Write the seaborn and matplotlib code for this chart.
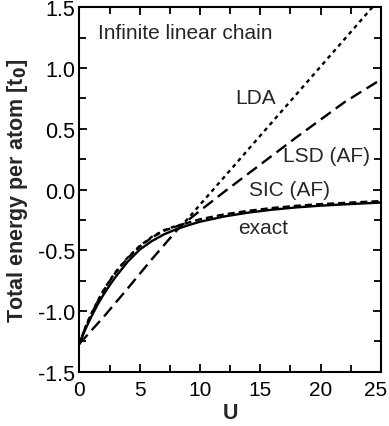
import matplotlib
matplotlib.use("Agg")
import matplotlib.pyplot as plt
import matplotlib.transforms as mtransforms
import seaborn as sns
from matplotlib.ticker import MultipleLocator

# ---- data ----
U_exact = [0, 0.5, 1, 1.5, 2, 2.5, 3, 4, 5, 6, 7, 8, 9, 10, 12, 14, 16, 18, 20, 22, 25]
E_exact = [-1.27, -1.15, -1.045, -0.95, -0.865, -0.79, -0.72, -0.595, -0.495, -0.425,
           -0.37, -0.328, -0.295, -0.265, -0.222, -0.19, -0.166, -0.147, -0.133, -0.122, -0.107]

U_sic = [0, 0.5, 1, 1.5, 2, 2.5, 3, 4, 5, 6, 7, 8, 8.6, 10, 12, 14, 16, 18, 20, 22, 25]
E_sic = [-1.27, -1.135, -1.025, -0.925, -0.835, -0.755, -0.685, -0.565, -0.47, -0.395,
         -0.34, -0.305, -0.285, -0.245, -0.205, -0.175, -0.152, -0.134, -0.12, -0.11, -0.095]

U_lda = [0, 0.5, 1, 1.5, 2, 2.5, 3, 4, 5, 6, 7, 8, 8.6, 25]
E_lda = [-1.27, -1.13, -1.02, -0.92, -0.83, -0.75, -0.68, -0.56, -0.465, -0.39,
         -0.335, -0.3, -0.285, 1.58]

U_lsd = [0, 2, 4, 6, 7, 8, 8.6, 10, 12, 14, 16, 18, 20, 22, 25]
E_lsd = [-1.27, -1.05, -0.815, -0.575, -0.46, -0.345, -0.285, -0.175, -0.02, 0.13,
         0.28, 0.43, 0.575, 0.72, 0.905]

x_ticks = [0, 5, 10, 15, 20, 25]
y_ticks = [-1.5, -1.0, -0.5, 0.0, 0.5, 1.0, 1.5]

sns.set_style("ticks")
plt.rcParams['font.family'] = ['Liberation Sans', 'DejaVu Sans']

fig = plt.figure(figsize=(3.89, 4.27), dpi=100)
ax = fig.add_axes([0.204, 0.127, 0.775, 0.8536])

lw = 1.7
sns.lineplot(x=U_exact, y=E_exact, ax=ax, color='black', linewidth=lw, linestyle='-')
sns.lineplot(x=U_sic, y=E_sic, ax=ax, color='black', linewidth=lw, linestyle=(0, (3.0, 1.7)))
sns.lineplot(x=U_lda, y=E_lda, ax=ax, color='black', linewidth=lw, linestyle=(0, (1.7, 1.7)))
sns.lineplot(x=U_lsd, y=E_lsd, ax=ax, color='black', linewidth=lw, linestyle=(0, (5.2, 2.6)))

ax.set_xlim(0, 25)
ax.set_ylim(-1.5, 1.5)
ax.set_xticks(x_ticks)
ax.set_yticks(y_ticks)
ax.set_xticklabels([str(v) for v in x_ticks])
ax.set_yticklabels([f"{v:.1f}" for v in y_ticks])
ax.xaxis.set_minor_locator(MultipleLocator(2.5))
ax.yaxis.set_minor_locator(MultipleLocator(0.25))
ax.tick_params(which='both', direction='in', top=True, right=True, width=1.3, colors='black')
ax.tick_params(which='major', length=6)
ax.tick_params(which='minor', length=5)
ax.tick_params(axis='x', labelsize=15, pad=6)
ax.tick_params(axis='y', labelsize=15.5, pad=3)
for s in ax.spines.values():
    s.set_linewidth(1.5)
    s.set_color('black')

# nudge the last x tick label so it stays inside the figure
last = ax.get_xticklabels()[-1]
last.set_transform(last.get_transform() + mtransforms.ScaledTranslation(-5 / 100, 0, fig.dpi_scale_trans))

ax.set_xlabel("U", fontsize=15.5, fontweight='bold', labelpad=2)
ax.set_ylabel("Total energy per atom [t$_\\mathbf{0}$]", fontsize=15.5, fontweight='bold', labelpad=6)

fs = 15
ax.text(1.55, 1.29, "Infinite linear chain", fontsize=fs, va='center', ha='left')
ax.text(12.9, 0.754, "LDA", fontsize=fs, va='center', ha='left')
ax.text(16.9, 0.283, "LSD (AF)", fontsize=fs, va='center', ha='left')
ax.text(14.1, 0.0, "SIC (AF)", fontsize=fs, va='center', ha='left')
ax.text(13.2, -0.31, "exact", fontsize=fs, va='center', ha='left')

fig.savefig("out.png", dpi=100)
